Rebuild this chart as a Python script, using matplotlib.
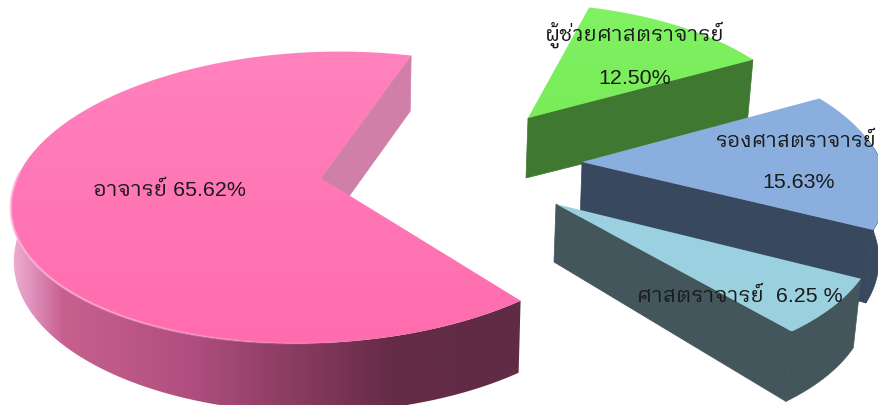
# -*- coding: utf-8 -*-
"""Exploded 3D pie of academic positions, drawn by hand from polygons."""
import numpy as np
import matplotlib
matplotlib.use("Agg")
import matplotlib.pyplot as plt
from matplotlib.collections import LineCollection
from matplotlib.colors import LinearSegmentedColormap, to_rgba
from matplotlib.patches import Polygon

# ====== Data ======
positions = ["อาจารย์", "ศาสตราจารย์", "รองศาสตราจารย์", "ผู้ช่วยศาสตราจารย์"]
shares = [65.62, 6.25, 15.63, 12.50]

# ====== Layout and colours (pixels) ======
WIDTH, HEIGHT = 879, 405
START_ANGLE = 70.0
SEMI_X, SEMI_Y = 305.0, 143.0
PERSPECTIVE = 0.134
TILT = 10.0
FONT = ["Liberation Sans", "IBM Plex Sans Thai Looped", "Sarabun", "FreeSerif", "DejaVu Sans"]

hubs = [(321, 178), (556, 204), (582, 162), (528, 118)]
centres = [(318.5, 178), (556, 204), (582, 162), (528, 118)]
radii = [1.0, 1.02, 0.965, 0.895]
rotations = [0.0, -1.0, 0.0, -0.5]
skews = [0.0, 36.0, 40.0, 33.0]
tapers = [0.01, 0.025, 0.025, 0.025]
depths = [60, 58, 62, 60]
top_colours = [("#ff82bd", "#ff6cae"), ("#9bd1e1", "#9bd0df"), ("#8aafe0", "#8bb0df"), ("#80f264", "#79ec58")]
edge_colours = ["#cf7fa8", "#42565c", "#38485e", "#3f7830"]
pink_wall = [(0.0, "#eeb0d0"), (0.04, "#e090bc"), (0.1, "#c8608f"), (0.35, "#b04f80"),
             (0.55, "#8a3c62"), (0.75, "#652b47"), (1.0, "#5f2b45")]


def project(i, theta, z=0.0):
    """Disc coordinates to pixels, nearer parts of the disc come out larger."""
    radius = radii[i]
    x = radius * np.cos(np.radians(theta))
    y = radius * np.sin(np.radians(theta))
    d = 1.0 / (1.0 + PERSPECTIVE * y)
    reach = SEMI_X * x * d - skews[i] * y * d
    px = centres[i][0] + reach * (1.0 - tapers[i] * z)
    # walls get a little taller towards the right
    py = centres[i][1] - SEMI_Y * y * d - TILT * x * d + z * depths[i] * d * (1.0 + 0.12 * x)
    return np.column_stack([px, py])


def gradient_patch(ax, points, colours, horizontal, zorder):
    # gradient image clipped by the polygon
    xs, ys = points[:, 0], points[:, 1]
    cmap = LinearSegmentedColormap.from_list("g", colours)
    ramp = np.linspace(0, 1, 256)
    img = ramp[None, :] if horizontal else ramp[:, None]
    im = ax.imshow(img, cmap=cmap, aspect="auto", zorder=zorder, interpolation="bilinear",
                   extent=(xs.min(), xs.max(), ys.max(), ys.min()))
    poly = Polygon(points, closed=True, transform=ax.transData, fill=False, edgecolor="none")
    ax.add_patch(poly)
    im.set_clip_path(poly)


def draw_slice(ax, i, t0, t1, zorder):
    arc = np.linspace(t0, t1, 240)
    rim = project(i, arc)
    base = project(i, arc, 1.0)
    apex = np.array([hubs[i]], dtype=float)
    apex_low = np.array([[hubs[i][0] - 2, hubs[i][1] + depths[i]]], dtype=float)

    # side wall along the start edge of the slice
    wall = np.vstack([apex, rim[:1], base[:1], apex_low])
    ax.add_patch(Polygon(wall, closed=True, facecolor=edge_colours[i], edgecolor=edge_colours[i],
                         linewidth=0.5, zorder=zorder))

    # outer wall, only the part turned towards the viewer
    front = np.sin(np.radians(arc)) < 0.12
    if front.any():
        outer = np.vstack([rim[front], base[front][::-1]])
        if i == 0:
            gradient_patch(ax, outer, pink_wall, True, zorder + 0.1)
        else:
            ax.add_patch(Polygon(outer, closed=True, facecolor=edge_colours[i], edgecolor=edge_colours[i],
                                 linewidth=0.5, zorder=zorder + 0.1))

    top = np.vstack([apex, rim])
    gradient_patch(ax, top, top_colours[i], False, zorder + 0.2)

    if i == 0:
        # glossy rim along the front edge
        pts = rim[front]
        segs = np.stack([pts[:-1], pts[1:]], axis=1)
        u = (pts[:-1, 0] - pts[:, 0].min()) / np.ptp(pts[:, 0])
        cols = [to_rgba("#ffb4dc", max(0.85 - 1.25 * k, 0.0)) for k in u]
        ax.add_collection(LineCollection(segs, colors=cols, linewidths=1.6, zorder=zorder + 0.3))


def main():
    fig = plt.figure(figsize=(WIDTH / 100, HEIGHT / 100), dpi=100)
    ax = fig.add_axes([0, 0, 1, 1])

    # angles follow the shares, going counter-clockwise
    sweep = np.array(shares) * 3.6
    starts = START_ANGLE + np.concatenate([[0.0], np.cumsum(sweep)[:-1]])

    # far slices first so the nearer ones overlap them
    for zorder, i in enumerate([0, 3, 2, 1]):
        t0 = starts[i] + rotations[i]
        draw_slice(ax, i, t0, t0 + sweep[i], zorder * 2 + 1)

    ax.set_xlim(0, WIDTH)
    ax.set_ylim(HEIGHT, 0)
    ax.axis("off")

    text_kw = dict(ha="center", va="center", color="#1a1a1a", fontsize=15.4, family=FONT, zorder=20)
    ax.text(169, 190, f"{positions[0]} {shares[0]:.2f}%", **text_kw)
    ax.text(635, 35, positions[3], **text_kw)
    ax.text(635, 78, f"{shares[3]:.2f}%", **text_kw)
    ax.text(877, 141, positions[2], **{**text_kw, "ha": "right", "fontsize": 15.0})
    ax.text(799, 183, f"{shares[2]:.2f}%", **text_kw)
    ax.text(740, 296, f"{positions[1]}  {shares[1]:.2f} %", **text_kw)

    fig.savefig("out.png", dpi=100)
    plt.close(fig)


if __name__ == "__main__":
    main()
